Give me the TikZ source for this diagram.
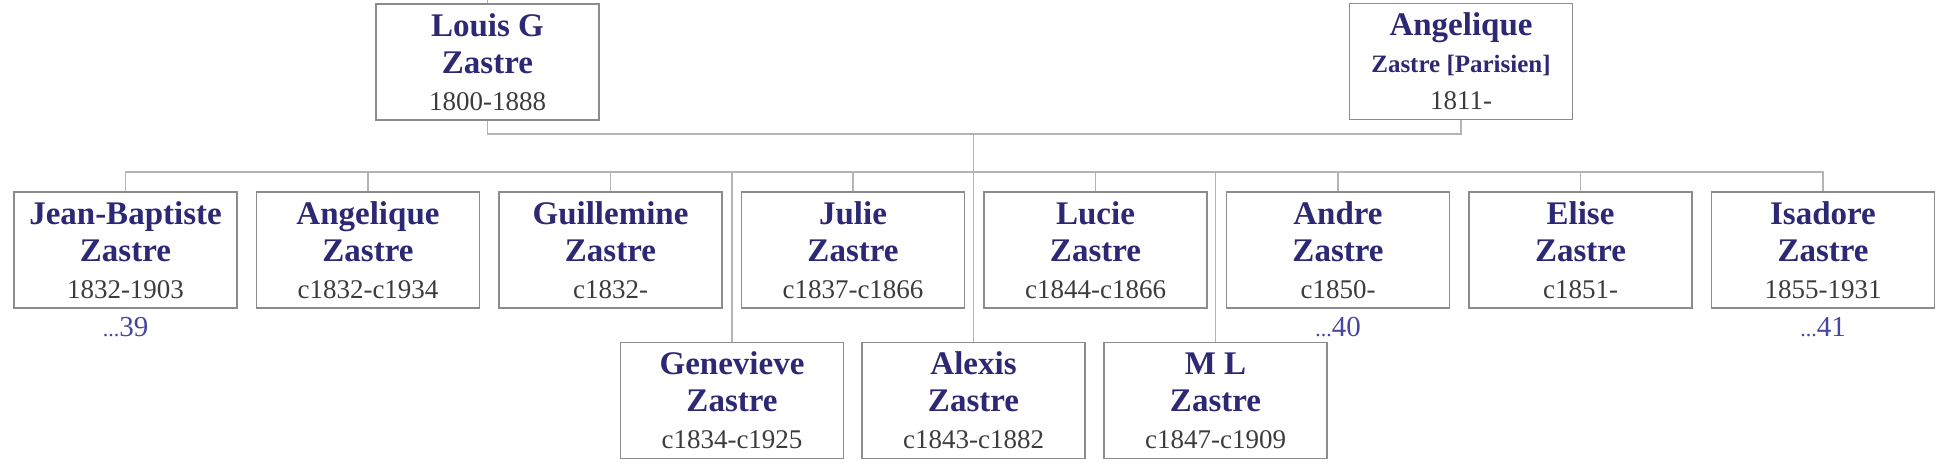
\documentclass[tikz,border=0pt]{standalone}
\usepackage{fontspec}
\setmainfont{Liberation Serif}
\usepackage{tikz}
\usetikzlibrary{positioning}
\definecolor{namecol}{RGB}{45,40,115}
\definecolor{yrcol}{RGB}{60,60,60}
\definecolor{morecol}{RGB}{70,70,160}
\definecolor{boxcol}{RGB}{140,140,140}
\definecolor{tiecol}{RGB}{180,180,180}
\tikzstyle{person} = [draw=boxcol, line width=0.6pt, minimum width=111.5pt, minimum height=58pt, inner sep=0pt, align=center, text=namecol, font=\fontsize{16.5}{18.5}\selectfont\bfseries]
\tikzstyle{more} = [anchor=base, text=morecol, font=\fontsize{14.5}{14.5}\selectfont]
\tikzstyle{tie} = [draw=tiecol, line width=0.9pt]
\newcommand{\yrs}[1]{{\fontsize{13.5}{18.5}\selectfont\mdseries\color{yrcol}#1}}
\newcommand{\moredots}{{\fontsize{11}{11}\selectfont...}}

\begin{document}
\begin{tikzpicture}[x=0.5pt, y=-0.5pt]
	\useasboundingbox (0,0) rectangle (1948,467);

	\node (louis) at(487.5,62) [person] {Louis G\\Zastre\\\yrs{1800-1888}};
	\node (angel) at(1461,61.5)[person] {Angelique\\{\fontsize{12.5}{18.5}\selectfont Zastre [Parisien]}\\\yrs{1811-}};

	\node (jb)    at(125.5,250) [person] {Jean-Baptiste\\Zastre\\\yrs{1832-1903}};
	\node (angc)  at(368,250)   [person] {Angelique\\Zastre\\\yrs{c1832-c1934}};
	\node (guil)  at(610.5,250) [person] {Guillemine\\Zastre\\\yrs{c1832-}};
	\node (julie) at(853,250)   [person] {Julie\\Zastre\\\yrs{c1837-c1866}};
	\node (lucie) at(1095.5,250)[person] {Lucie\\Zastre\\\yrs{c1844-c1866}};
	\node (andre) at(1338,250)  [person] {Andre\\Zastre\\\yrs{c1850-}};
	\node (elise) at(1580.5,250)[person] {Elise\\Zastre\\\yrs{c1851-}};
	\node (isad)  at(1823,250)  [person] {Isadore\\Zastre\\\yrs{1855-1931}};

	\node (genev)  at(732,400.5)   [person] {Genevieve\\Zastre\\\yrs{c1834-c1925}};
	\node (alexis) at(973.5,400.5) [person] {Alexis\\Zastre\\\yrs{c1843-c1882}};
	\node (ml)     at(1215.5,400.5)[person] {M L\\Zastre\\\yrs{c1847-c1909}};

	\node (more39) at(125.5,336) [more] {\moredots39};
	\node (more40) at(1338,336)  [more] {\moredots40};
	\node (more41) at(1823,336)  [more] {\moredots41};

	\coordinate (up)  at(487.5,0);
	\coordinate (wed) at(973.5,134);
	\coordinate (bar) at(973.5,172);

	\draw[tie] (louis.north) -- (up);
	\draw[tie] (louis.south) |- (wed) -| (angel.south);
	\draw[tie] (wed) -- (alexis.north);
	\draw[tie] (jb.north) |- (bar) -| (isad.north);

	\draw[tie] (angc.north)  -- (angc.north |- bar);
	\draw[tie] (guil.north)  -- (guil.north |- bar);
	\draw[tie] (julie.north) -- (julie.north |- bar);
	\draw[tie] (lucie.north) -- (lucie.north |- bar);
	\draw[tie] (andre.north) -- (andre.north |- bar);
	\draw[tie] (elise.north) -- (elise.north |- bar);

	\draw[tie] (genev.north) -- (genev.north |- bar);
	\draw[tie] (ml.north)    -- (ml.north |- bar);
\end{tikzpicture}
\end{document}
